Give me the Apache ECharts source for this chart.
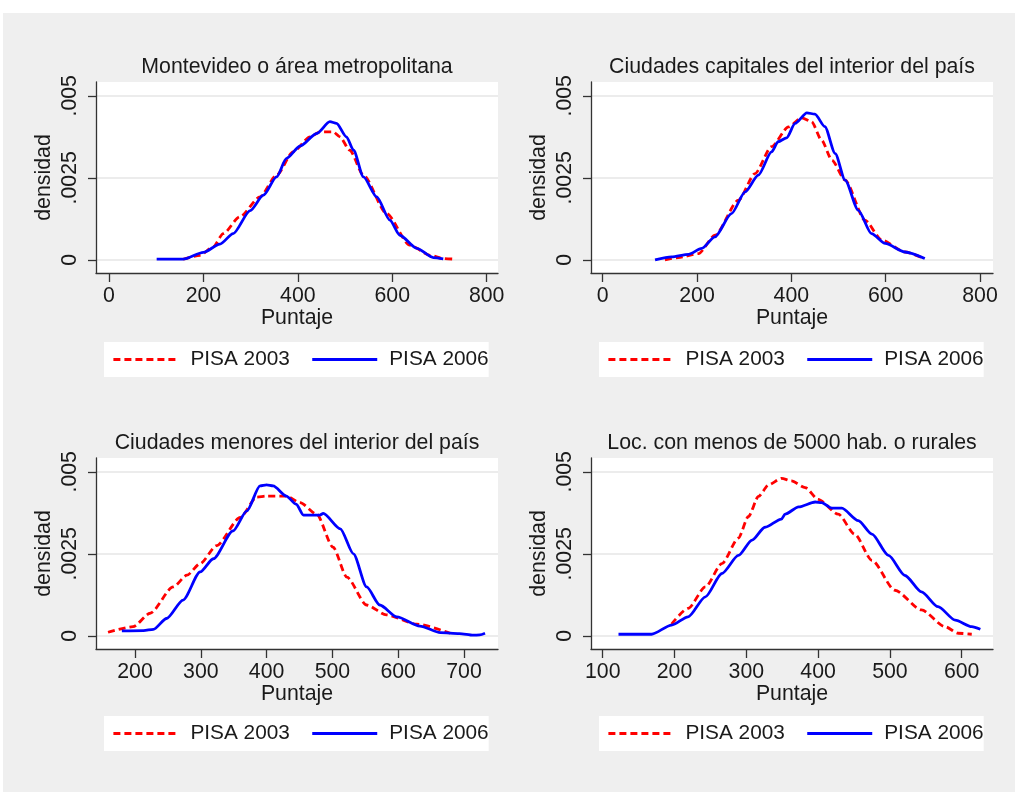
<!DOCTYPE html>
<html>
<head>
<meta charset="utf-8">
<script src="https://cdn.jsdelivr.net/npm/echarts@6/dist/echarts.min.js"></script>
<style>
  html, body { margin: 0; padding: 0; background: #ffffff; }
  #bg { position: absolute; left: 3px; top: 13px; width: 1012px; height: 779px; background: #efefef; }
  #c { position: absolute; left: 0; top: 0; width: 1015px; height: 792px; }
</style>
</head>
<body>
<div id="bg"></div>
<div id="c"></div>
<script>
// ---- Data ----
const panelTitles = [
  'Montevideo o área metropolitana',
  'Ciudades capitales del interior del país',
  'Ciudades menores del interior del país',
  'Loc. con menos de 5000 hab. o rurales'
];
const seriesNames = ['PISA 2003', 'PISA 2006'];
const xTitle = 'Puntaje';
const yTitle = 'densidad';

// x tick values per panel
const xTicks1 = [0, 200, 400, 600, 800];
const xTicks2 = [0, 200, 400, 600, 800];
const xTicks3 = [200, 300, 400, 500, 600, 700];
const xTicks4 = [100, 200, 300, 400, 500, 600];
// y tick values and labels
const yTicks = [0, 0.0025, 0.005];
const yTickLabels = ['0', '.0025', '.005'];

// Panel 1: Montevideo o área metropolitana  [puntaje, densidad]
const mvd2003 = [[157,0.00002],[193,0.00014],[221,0.0004],[242,0.0008],[277,0.00131],[320,0.00192],[355,0.00258],[390,0.00329],[426,0.00375],[447,0.0039],[475,0.0039],[489,0.00375],[510,0.00334],[539,0.00258],[588,0.00141],[637,0.00045],[680,0.00014],[708,0.00004],[733,0.00002]];
const mvd2006 = [[101,0.00002],[157,0.00002],[200,0.00023],[235,0.00048],[263,0.0008],[299,0.0015],[327,0.00197],[355,0.00253],[376,0.00309],[405,0.00347],[440,0.00385],[468,0.00421],[482,0.00416],[503,0.00375],[518,0.00334],[539,0.00253],[567,0.00192],[595,0.00121],[616,0.00075],[652,0.00035],[687,0.00007],[708,0.00003]];

// Panel 2: Ciudades capitales del interior del país
const cap2003 = [[132,0],[160,0.00007],[203,0.00019],[238,0.00075],[288,0.00182],[323,0.00263],[358,0.00345],[394,0.00405],[422,0.00433],[443,0.00421],[464,0.00365],[486,0.00304],[514,0.00243],[556,0.00121],[592,0.0006],[641,0.00024],[680,0.00005]];
const cap2006 = [[111,0],[146,0.00009],[182,0.00017],[210,0.00035],[238,0.0007],[273,0.00141],[302,0.00207],[330,0.00258],[358,0.00329],[372,0.0036],[390,0.00372],[408,0.00416],[433,0.00448],[450,0.00444],[471,0.00406],[493,0.00324],[514,0.00243],[542,0.00151],[570,0.0008],[599,0.0005],[641,0.00024],[683,0.00004]];

// Panel 3: Ciudades menores del interior del país
const men2003 = [[159,0.00011],[197,0.00028],[223,0.00069],[258,0.00149],[279,0.00185],[299,0.0022],[324,0.00275],[360,0.00361],[385,0.00423],[400,0.00426],[430,0.00426],[451,0.00406],[476,0.00371],[501,0.0027],[522,0.00179],[552,0.00094],[582,0.00064],[628,0.00036],[679,0.00008]];
const men2006 = [[180,0.00015],[213,0.00016],[228,0.0002],[248,0.00053],[273,0.00109],[299,0.00195],[319,0.00235],[349,0.0032],[370,0.00381],[390,0.00457],[400,0.0046],[410,0.00457],[430,0.00426],[445,0.00401],[456,0.00368],[481,0.00368],[486,0.00373],[512,0.00326],[532,0.0025],[552,0.00149],[572,0.00094],[598,0.00058],[633,0.0003],[664,0.0001],[693,0.00007],[714,0.00002],[724,0.00003],[732,0.00008]];

// Panel 4: Loc. con menos de 5000 hab. o rurales
const rur2003 = [[196,0.00036],[219,0.00084],[243,0.00149],[266,0.0022],[289,0.00298],[303,0.00364],[317,0.00425],[331,0.0046],[349,0.0048],[363,0.00472],[382,0.00452],[400,0.00416],[428,0.00371],[451,0.0031],[475,0.0023],[507,0.00139],[544,0.00079],[577,0.00028],[595,0.00008],[614,0.00005]];
const rur2006 = [[122,0.00005],[168,0.00005],[196,0.00033],[219,0.00058],[243,0.00119],[266,0.0019],[289,0.00245],[308,0.00292],[326,0.00331],[349,0.00356],[354,0.00371],[373,0.00393],[396,0.00408],[405,0.00406],[419,0.00389],[433,0.00389],[456,0.00351],[475,0.0031],[498,0.00245],[521,0.00184],[544,0.00134],[567,0.00089],[591,0.00048],[614,0.00028],[626,0.0002]];

// ---- Layout / style ----
const FONT = 'Liberation Sans, Arial, Helvetica, sans-serif';
const FS = 21.3;
const LFS = 20.8;
const TXT = '#1a1a1a';
const panels = [
  { left: 96,  top: 82,  xmin: -27.5, xmax: 824,   ticks: xTicks1, d03: mvd2003, d06: mvd2006, legTop: 342 },
  { left: 591, top: 82,  xmin: -24.8, xmax: 827.6, ticks: xTicks2, d03: cap2003, d06: cap2006, legTop: 342 },
  { left: 96,  top: 458, xmin: 140.7, xmax: 751.7, ticks: xTicks3, d03: men2003, d06: men2006, legTop: 716 },
  { left: 591, top: 458, xmin: 83.7,  xmax: 643.6, ticks: xTicks4, d03: rur2003, d06: rur2006, legTop: 716 }
];
const PW = 402, PH = 191;

const grid = [], xAxis = [], yAxis = [], series = [], title = [], legend = [];
panels.forEach((p, i) => {
  grid.push({ left: p.left, top: p.top, width: PW, height: PH, show: true,
    backgroundColor: '#ffffff', borderWidth: 0, containLabel: false });
  title.push({ text: panelTitles[i], left: p.left + PW / 2, top: p.top - 25, textAlign: 'center', padding: 0,
    textStyle: { fontFamily: FONT, fontSize: FS, fontWeight: 'normal', color: TXT } });
  xAxis.push({
    type: 'value', gridIndex: i, min: p.xmin, max: p.xmax,
    name: xTitle, nameLocation: 'middle', nameGap: 33,
    nameTextStyle: { fontFamily: FONT, fontSize: FS, color: TXT },
    axisLine: { show: true, onZero: false, lineStyle: { color: '#333333', width: 1.3 } },
    axisTick: { show: true, length: 9, customValues: p.ticks, lineStyle: { color: '#333333', width: 1.3 } },
    axisLabel: { customValues: p.ticks, margin: 13, fontFamily: FONT, fontSize: FS, color: TXT,
      formatter: v => String(v) },
    splitLine: { show: false }
  });
  yAxis.push({
    type: 'value', gridIndex: i, min: -0.0004, max: 0.00542,
    name: yTitle, nameLocation: 'middle', nameGap: 41, nameRotate: 90,
    nameTextStyle: { fontFamily: FONT, fontSize: FS, color: TXT },
    axisLine: { show: true, onZero: false, lineStyle: { color: '#333333', width: 1.3 } },
    axisTick: { show: true, length: 8, customValues: yTicks, lineStyle: { color: '#333333', width: 1.3 } },
    axisLabel: { customValues: yTicks, rotate: 90, margin: 15, fontFamily: FONT, fontSize: FS, color: TXT,
      formatter: v => { const k = yTicks.findIndex(t => Math.abs(t - v) < 1e-9); return k >= 0 ? yTickLabels[k] : ''; } },
    splitLine: { show: true, lineStyle: { color: '#e6e6e6', width: 1.5 } }
  });
  series.push({
    name: seriesNames[0], type: 'line', xAxisIndex: i, yAxisIndex: i, data: p.d03,
    symbol: 'none', smooth: 0.25, smoothMonotone: 'x', z: 2,
    lineStyle: { color: '#ff0000', width: 2.8, type: [7, 4] }, itemStyle: { color: '#ff0000' }
  });
  series.push({
    name: seriesNames[1], type: 'line', xAxisIndex: i, yAxisIndex: i, data: p.d06,
    symbol: 'none', smooth: 0.25, smoothMonotone: 'x', z: 3,
    lineStyle: { color: '#0000ff', width: 2.8, type: 'solid' }, itemStyle: { color: '#0000ff' }
  });
  legend.push({
    data: seriesNames, left: p.left + 8, top: p.legTop, orient: 'horizontal',
    backgroundColor: '#ffffff', padding: [7, 0, 7, 8], itemGap: 21, itemWidth: 65, itemHeight: 14,
    selectedMode: false,
    itemStyle: { opacity: 0, borderWidth: 0 },
    lineStyle: { width: 2.8 },
    textStyle: { fontFamily: FONT, fontSize: LFS, color: TXT, padding: [0, 0, 0, 7] }
  });
});

const chart = echarts.init(document.getElementById('c'), null, { renderer: 'canvas' });
chart.setOption({
  animation: false,
  backgroundColor: 'transparent',
  textStyle: { fontFamily: FONT },
  title, grid, xAxis, yAxis, series, legend
});
</script>
</body>
</html>
